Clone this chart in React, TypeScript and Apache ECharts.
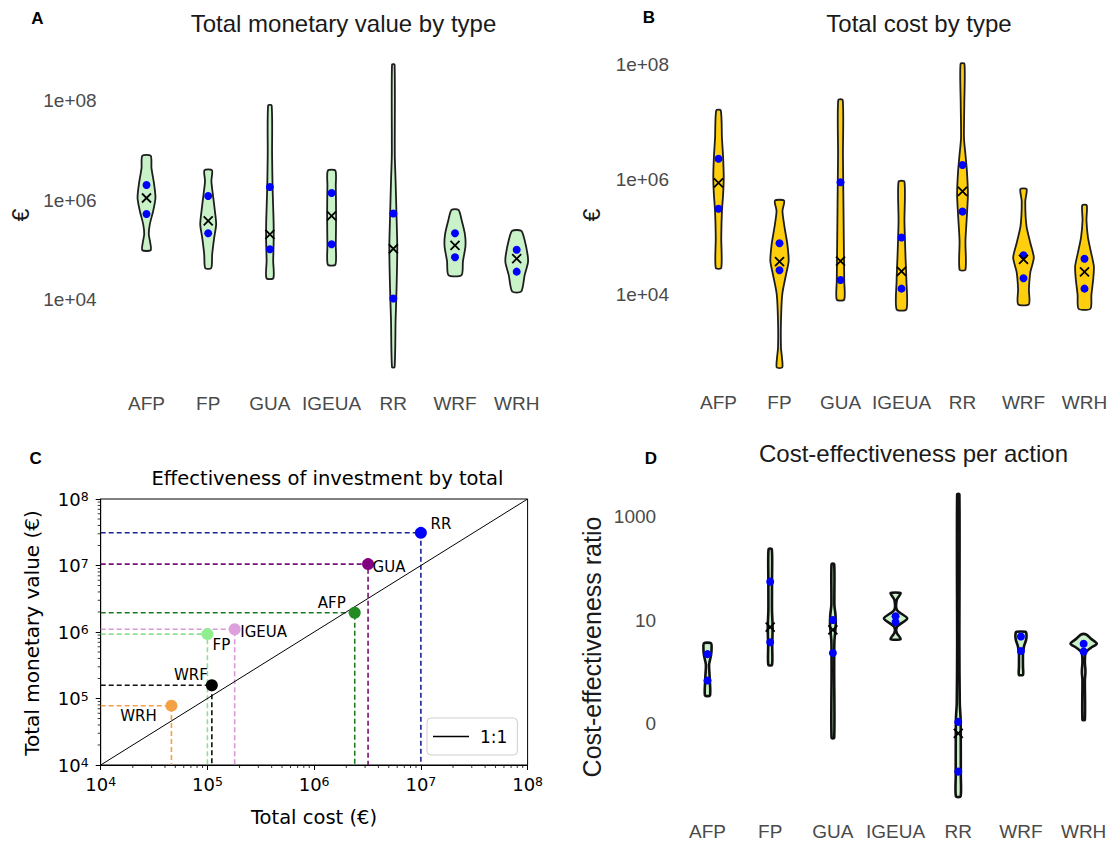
import React, { useEffect, useRef } from 'react';
import * as echarts from 'echarts';

const categories = ['AFP', 'FP', 'GUA', 'IGEUA', 'RR', 'WRF', 'WRH'];

// Panel A — total monetary value, violin outlines: [log10(€), relative half-width]
const valueViolins: number[][][] = [
  [[6.90, 4.2], [6.65, 5], [6.32, 7.7], [6.05, 9], [5.79, 6.7], [5.52, 3.3], [5.32, 2.3], [5.16, 3.7], [5.00, 4.2]],
  [[6.61, 3.8], [6.39, 3.2], [6.12, 4.7], [5.79, 6.7], [5.52, 8], [5.25, 6], [4.92, 4], [4.64, 3]],
  [[7.91, 1.8], [6.92, 2.2], [6.25, 2.7], [5.59, 3.7], [5.19, 3.8], [4.79, 3.3], [4.44, 3.5]],
  [[6.60, 3.8], [6.30, 4.2], [5.70, 4.5], [5.10, 4.2], [4.71, 3.8]],
  [[8.73, 1.3], [6.92, 1.5], [6.39, 2.3], [5.72, 3.2], [5.05, 4], [4.25, 3.3], [3.59, 2.3], [2.65, 1.3]],
  [[5.81, 3.5], [5.62, 6.5], [5.32, 10], [5.08, 10.5], [4.78, 8], [4.50, 6.5]],
  [[5.39, 4.5], [5.20, 8], [4.90, 11], [4.75, 11.3], [4.50, 8], [4.17, 4.5]],
];
const valueDots = [[6.31, 5.73], [6.09, 5.34], [6.27, 5.02], [6.15, 5.12], [5.74, 4.03], [5.34, 4.86], [5.01, 4.57]];
const valueMeans = [6.05, 5.59, 5.32, 5.69, 5.03, 5.10, 4.83];
const valueTickLogs = [4, 6, 8];
const valueTickLabels = ['1e+04', '1e+06', '1e+08'];

// Panel B — total cost
const costViolins: number[][][] = [
  [[7.21, 2.3], [6.73, 3.5], [6.39, 4.7], [6.04, 5.3], [5.75, 4.7], [5.46, 3.5], [5.00, 2.8], [4.47, 2.8]],
  [[5.64, 4.7], [5.46, 3], [5.17, 5.2], [4.88, 8], [4.59, 9.3], [4.36, 6.7], [4.01, 2.8], [3.54, 1.5], [3.08, 1.5], [2.91, 2.5], [2.74, 2.8]],
  [[7.39, 2.3], [6.44, 2.5], [5.57, 3], [4.70, 3.5], [4.24, 3.8], [3.92, 3.8]],
  [[5.97, 3], [5.28, 3], [4.70, 4], [4.24, 5], [3.75, 5]],
  [[8.02, 2], [7.31, 1.8], [6.73, 1.5], [6.44, 3], [6.15, 4.5], [5.75, 5.5], [5.39, 4.5], [4.94, 3], [4.44, 3]],
  [[5.84, 3.2], [5.63, 1.8], [5.20, 3], [4.90, 7], [4.65, 10.5], [4.40, 7], [4.10, 5.5], [3.84, 5.5]],
  [[5.56, 2.3], [5.30, 2], [5.00, 3.5], [4.75, 6.5], [4.50, 9.5], [4.30, 9], [4.00, 7], [3.76, 6]],
];
const costDots = [[6.37, 5.50], [4.90, 4.43], [5.96, 4.26], [5.00, 4.11], [6.26, 5.45], [4.69, 4.29], [4.63, 4.11]];
const costMeans = [5.95, 4.58, 4.59, 4.41, 5.80, 4.62, 4.40];
const costTickLogs = [4, 6, 8];
const costTickLabels = ['1e+04', '1e+06', '1e+08'];

// Panel C — totals (€)
const totalCost = [2.4e6, 1.0e5, 3.2e6, 1.8e5, 1.0e7, 1.1e5, 4.6e4];
const totalValue = [1.95e6, 9.3e5, 1.05e7, 1.1e6, 3.1e7, 1.58e5, 7.8e4];

// Panel D — cost-effectiveness ratio (axis position units)
const ratioViolins: number[][][] = [
  [[0.56, 3.5], [0.45, 4], [0.33, 3.5], [0.15, 1.6], [-0.05, 2], [-0.2, 2.4], [-0.45, 2.4]],
  [[2.38, 1.6], [1.75, 1.8], [1.2, 1.8], [0.87, 2.4], [0.5, 2], [0.14, 1.8]],
  [[2.09, 1.3], [1.3, 1.5], [1.1, 2.6], [0.9, 2.8], [0.6, 1.5], [0, 1.3], [-1.27, 1.3]],
  [[1.526, 5], [1.40, 1.2], [1.20, 1.4], [1.04, 11.5], [0.88, 1.4], [0.76, 1.2], [0.64, 5]],
  [[3.44, 1.1], [0.5, 1.1], [-0.6, 1.5], [-0.9, 2.3], [-1.5, 2.5], [-2.0, 2.5], [-2.40, 2.3]],
  [[0.78, 4.5], [0.72, 5.5], [0.62, 5], [0.50, 3], [0.35, 2], [0.1, 2], [-0.05, 2]],
  [[0.73, 2.5], [0.65, 7], [0.55, 13], [0.47, 7], [0.38, 2], [0.20, 1.2], [0.05, 1.7], [-0.03, 1.7], [-0.15, 1.2], [-0.92, 1.2]],
];
const ratioDots = [[0.35, -0.16], [1.75, 0.58], [1.01, 0.37], [1.08, 0.97], [-0.96, -1.92], [0.69, 0.41], [0.55, 0.40]];
const ratioMeans: (number | null)[] = [null, 0.87, 0.82, null, -1.18, null, null];
const ratioTickPos = [-1, 1, 3];
const ratioTickLabels = ['0', '10', '1000'];

const pointColors = ['#228b22', '#90ee90', '#800080', '#dda0dd', '#0000ff', '#000000', '#f4a146'];
const lineColors = ['#1f7a1f', '#8fe08f', '#7a107a', '#d898d8', '#1c2590', '#111111', '#f0a048'];
const labelOffsets: Record<string, number[]> = {
  AFP: [-23, -10], FP: [14, 11], GUA: [21, 3], IGEUA: [29, 3], RR: [20, -9], WRF: [-21, -10], WRH: [-33, 10],
};

const SANS = "'Liberation Sans', Arial, sans-serif";
const DJV = "'DejaVu Sans', sans-serif";
const TICK_GREY = '#4a4a4a';

function violinSeries(idx: number, profiles: number[][][], fill: string, lineWidth: number, stroke: string) {
  return {
    type: 'custom',
    xAxisIndex: idx,
    yAxisIndex: idx,
    silent: true,
    clip: false,
    z: 2,
    data: profiles.map((p, i) => [i, p[0][0]]),
    renderItem: (params: any, api: any) => {
      const i = params.dataIndex;
      const prof = profiles[i];
      const band = api.size([1, 0])[0];
      const k = band / 62;
      const left: number[][] = [];
      const right: number[][] = [];
      for (const [v, w] of prof) {
        const c = api.coord([i, v]);
        left.push([c[0] - w * k, c[1]]);
        right.push([c[0] + w * k, c[1]]);
      }
      const pts = left.concat(right.reverse());
      return {
        type: 'polygon',
        shape: { points: pts, smooth: 0.25 },
        style: { fill, stroke, lineWidth },
      };
    },
  };
}

function dotSeries(idx: number, dots: number[][]) {
  const data: number[][] = [];
  dots.forEach((d, i) => d.forEach((v) => data.push([i, v])));
  return {
    type: 'scatter', xAxisIndex: idx, yAxisIndex: idx, silent: true, z: 3,
    symbolSize: 8, itemStyle: { color: '#0000ff', opacity: 1 }, data,
  };
}

function meanSeries(idx: number, means: (number | null)[]) {
  const data: number[][] = [];
  means.forEach((m, i) => { if (m !== null) data.push([i, m]); });
  return {
    type: 'scatter', xAxisIndex: idx, yAxisIndex: idx, silent: true, z: 4,
    symbol: 'path://M0,0L10,10M10,0L0,10', symbolSize: 9,
    itemStyle: { color: 'rgba(0,0,0,0)', borderColor: '#000', borderWidth: 1.8, opacity: 1 },
    data,
  };
}

function catAxis(idx: number, margin: number) {
  return {
    type: 'category', gridIndex: idx, data: categories,
    axisLine: { show: false }, axisTick: { show: false }, splitLine: { show: false },
    axisLabel: { fontSize: 19, color: TICK_GREY, fontFamily: SANS, margin, interval: 0 },
  };
}

function labelFor(v: number, pos: number[], labels: string[]) {
  for (let j = 0; j < pos.length; j++) if (Math.abs(v - pos[j]) < 1e-6) return labels[j];
  return '';
}

function logValAxis(idx: number, min: number, max: number, interval: number, margin: number, pos: number[], labels: string[]) {
  return {
    type: 'value', gridIndex: idx, min, max, interval,
    axisLine: { show: false }, axisTick: { show: false }, splitLine: { show: false },
    axisLabel: {
      fontSize: 19, color: TICK_GREY, fontFamily: SANS, margin,
      formatter: (v: number) => labelFor(v, pos, labels),
    },
  };
}

const supRich = {
  n: { fontSize: 18, fontFamily: DJV, color: '#000', verticalAlign: 'bottom' },
  s: { fontSize: 12.5, fontFamily: DJV, color: '#000', verticalAlign: 'top' },
};
const expLabel = (v: number) => `{n|10}{s|${Math.round(Math.log10(v))}}`;

export default function App() {
  const ref = useRef<HTMLDivElement>(null);
  useEffect(() => {
    if (!ref.current) return;
    const chart = echarts.init(ref.current, undefined, { renderer: 'svg' });

    const txt = (text: string, x: number, y: number, fontSize: number, fontFamily: string, opts: any = {}) => ({
      type: 'text', x, y, rotation: opts.rotation || 0, silent: true,
      style: {
        text, fontSize, fontFamily, fontWeight: opts.bold ? 'bold' : 'normal',
        fill: opts.fill || '#1a1a1a', align: 'center', verticalAlign: 'middle',
      },
    });

    const option: any = {
      animation: false,
      backgroundColor: '#ffffff',
      grid: [
        { left: 115.65, top: 51.25, width: 431.9, height: 335.8 },
        { left: 688, top: 50.6, width: 434, height: 330.6 },
        { left: 100.7, top: 499, width: 426.9, height: 266, show: true, borderColor: '#000', borderWidth: 1, backgroundColor: 'transparent' },
        { left: 676.15, top: 491.1, width: 445.9, height: 310.5 },
      ],
      xAxis: [
        catAxis(0, 6.5),
        catAxis(1, 12),
        {
          type: 'log', logBase: 10, gridIndex: 2, min: 1e4, max: 1e8,
          axisLine: { lineStyle: { color: '#000', width: 1 } },
          axisTick: { show: true, inside: false, length: 5, lineStyle: { color: '#000' } },
          splitLine: { show: false },
          axisLabel: { margin: 10, formatter: expLabel, rich: supRich },
        },
        catAxis(3, 20.5),
      ],
      yAxis: [
        logValAxis(0, 2.25, 9, 0.25, 19, valueTickLogs, valueTickLabels),
        logValAxis(1, 2.5, 8.25, 0.25, 19, costTickLogs, costTickLabels),
        {
          type: 'log', logBase: 10, gridIndex: 2, min: 1e4, max: 1e8,
          axisLine: { lineStyle: { color: '#000', width: 1 } },
          axisTick: { show: true, inside: false, length: 5, lineStyle: { color: '#000' } },
          splitLine: { show: false },
          axisLabel: { margin: 12, formatter: expLabel, rich: supRich },
        },
        logValAxis(3, -2.5, 3.5, 0.5, 20, ratioTickPos, ratioTickLabels),
      ],
      legend: {
        data: [{ name: '1:1', icon: 'rect' }], left: 427, top: 718, orient: 'horizontal',
        itemWidth: 36, itemHeight: 1.3, padding: [10, 10, 10, 6],
        borderColor: '#cfcfcf', borderWidth: 1, borderRadius: 4, backgroundColor: '#fff',
        textStyle: { fontSize: 17, fontFamily: DJV, color: '#000', padding: [0, 0, 0, 6], lineHeight: 17 },
        selectedMode: false,
      },
      graphic: {
        elements: [
          txt('A', 37.5, 18, 17, SANS, { bold: true, fill: '#000' }),
          txt('Total monetary value by type', 343.5, 23, 24, SANS),
          txt('€', 21.4, 215, 23, SANS, { rotation: Math.PI / 2 }),
          txt('B', 649, 17, 17, SANS, { bold: true, fill: '#000' }),
          txt('Total cost by type', 919, 23, 24, SANS),
          txt('€', 592, 215, 23, SANS, { rotation: Math.PI / 2 }),
          txt('C', 35.7, 458, 17, SANS, { bold: true, fill: '#000' }),
          txt('Effectiveness of investment by total', 327.5, 478, 19.5, DJV, { fill: '#000' }),
          txt('Total cost (€)', 314, 817, 19.5, DJV, { fill: '#000' }),
          txt('Total monetary value (€)', 32, 633, 20, DJV, { rotation: Math.PI / 2, fill: '#000' }),
          txt('D', 651, 458, 17, SANS, { bold: true, fill: '#000' }),
          txt('Cost-effectiveness per action', 913.5, 453, 24, SANS),
          txt('Cost-effectiveness ratio', 592, 647, 25, SANS, { rotation: Math.PI / 2 }),
        ],
      },
      series: [
        violinSeries(0, valueViolins, '#c9f2c9', 1.8, '#1e1e1e'),
        dotSeries(0, valueDots),
        meanSeries(0, valueMeans),
        violinSeries(1, costViolins, '#ffcf0d', 1.8, '#1e1e1e'),
        dotSeries(1, costDots),
        meanSeries(1, costMeans),
        violinSeries(3, ratioViolins, '#c9f2c9', 2.6, '#111111'),
        dotSeries(3, ratioDots),
        meanSeries(3, ratioMeans),
        ...categories.map((name, i) => ({
          type: 'line', name: name + ' guide', xAxisIndex: 2, yAxisIndex: 2, silent: true,
          symbol: 'none', z: 2,
          data: [[1e4, totalValue[i]], [totalCost[i], totalValue[i]], [totalCost[i], 1e4]],
          lineStyle: { type: [5, 3], width: 1.6, color: lineColors[i] },
        })),
        {
          type: 'line', name: '1:1', xAxisIndex: 2, yAxisIndex: 2, silent: true, symbol: 'none', z: 3,
          data: [[1e4, 1e4], [1e8, 1e8]],
          lineStyle: { color: '#000', width: 1 }, itemStyle: { color: '#000' },
        },
        {
          type: 'scatter', xAxisIndex: 2, yAxisIndex: 2, silent: true, symbolSize: 12, z: 4,
          data: categories.map((name, i) => ({
            name, value: [totalCost[i], totalValue[i]],
            itemStyle: { color: pointColors[i], opacity: 1 },
            label: { offset: labelOffsets[name] },
          })),
          label: {
            show: true, formatter: '{b}', position: 'inside', color: '#000',
            fontSize: 15, fontFamily: DJV,
          },
        },
        {
          type: 'custom', xAxisIndex: 2, yAxisIndex: 2, silent: true, clip: false, z: 5,
          data: [[1e5, 1e5]],
          renderItem: (params: any, api: any) => {
            const children: any[] = [];
            for (let d = 4; d < 8; d++) {
              for (let m = 2; m <= 9; m++) {
                const v = m * Math.pow(10, d);
                const bx = api.coord([v, 1e4]);
                children.push({ type: 'line', shape: { x1: bx[0], y1: bx[1], x2: bx[0], y2: bx[1] + 3 }, style: { stroke: '#000', lineWidth: 0.8 } });
                const ly = api.coord([1e4, v]);
                children.push({ type: 'line', shape: { x1: ly[0], y1: ly[1], x2: ly[0] - 3, y2: ly[1] }, style: { stroke: '#000', lineWidth: 0.8 } });
              }
            }
            return { type: 'group', children };
          },
        },
      ],
    };
    chart.setOption(option);
    return () => chart.dispose();
  }, []);

  return <div ref={ref} style={{ position: 'absolute', left: 0, top: 0, width: 1115, height: 843 }} />;
}
